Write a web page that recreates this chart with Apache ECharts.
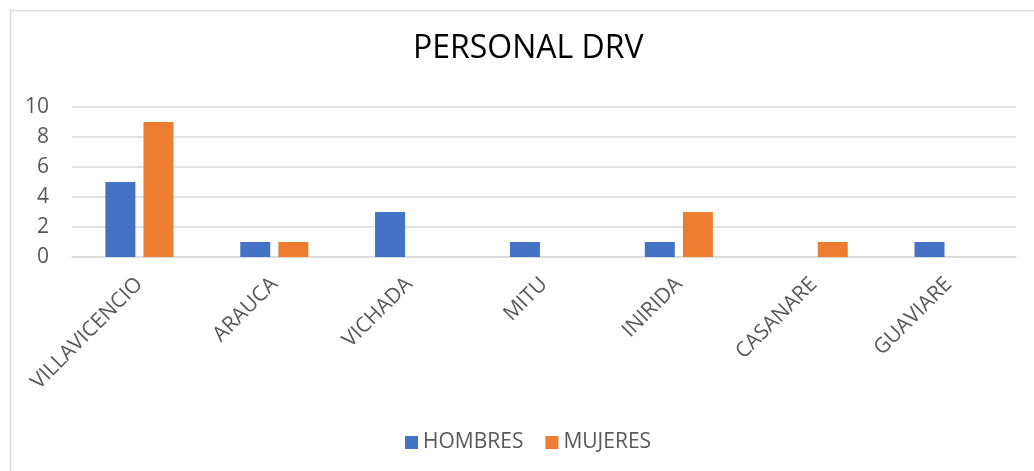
<!DOCTYPE html>
<html>
<head>
<meta charset="utf-8">
<script src="https://cdn.jsdelivr.net/npm/echarts@6/dist/echarts.min.js"></script>
<style>
  html, body { margin: 0; padding: 0; background: #fff; }
  #chart { width: 1034px; height: 471px; }
</style>
</head>
<body>
<div id="chart"></div>
<script>
// Staff of the DRV by office, split by gender
const categories = ['VILLAVICENCIO', 'ARAUCA', 'VICHADA', 'MITU', 'INIRIDA', 'CASANARE', 'GUAVIARE'];
const hombres = [5, 1, 3, 1, 1, 0, 1];
const mujeres = [9, 1, 0, 0, 3, 1, 0];
const seriesNames = ['HOMBRES', 'MUJERES'];

const FONT = '"Open Sans", "Noto Sans", sans-serif';
const TEXT = '#595959';

const chart = echarts.init(document.getElementById('chart'), null, { renderer: 'canvas' });
chart.setOption({
  animation: false,
  backgroundColor: '#fff',
  graphic: [{
    type: 'rect',
    left: 8, top: 8,
    shape: { width: 1200, height: 700 },
    style: { fill: 'none', stroke: '#d9d9d9', lineWidth: 1.5 },
    silent: true
  }],
  title: {
    text: 'PERSONAL DRV',
    left: 408,
    top: 28,
    textStyle: { fontFamily: FONT, fontSize: 32, fontWeight: 'normal', color: '#000' }
  },
  legend: {
    data: seriesNames,
    left: 400,
    top: 427,
    itemWidth: 13,
    itemHeight: 13,
    itemGap: 22,
    icon: 'rect',
    textStyle: { fontFamily: FONT, fontSize: 21, color: TEXT, padding: [0, 0, 0, 0] }
  },
  grid: { left: 72, right: 18, top: 107, height: 150, containLabel: false },
  xAxis: {
    type: 'category',
    data: categories,
    axisLine: { lineStyle: { color: '#d9d9d9', width: 1.5 } },
    axisTick: { show: false },
    axisLabel: {
      rotate: 45,
      interval: 0,
      margin: 24,
      fontFamily: FONT,
      fontSize: 21,
      color: TEXT
    }
  },
  yAxis: {
    type: 'value',
    min: 0,
    max: 10,
    interval: 2,
    axisLine: { show: false },
    axisTick: { show: false },
    splitLine: { lineStyle: { color: '#d9d9d9', width: 1.5 } },
    axisLabel: { margin: 23, fontFamily: FONT, fontSize: 21, color: TEXT }
  },
  series: [
    {
      name: seriesNames[0],
      type: 'bar',
      data: hombres,
      barWidth: 30,
      barGap: '27%',
      itemStyle: { color: '#4472C4' }
    },
    {
      name: seriesNames[1],
      type: 'bar',
      data: mujeres,
      barWidth: 30,
      barGap: '27%',
      itemStyle: { color: '#ED7D31' }
    }
  ]
});
</script>
</body>
</html>
